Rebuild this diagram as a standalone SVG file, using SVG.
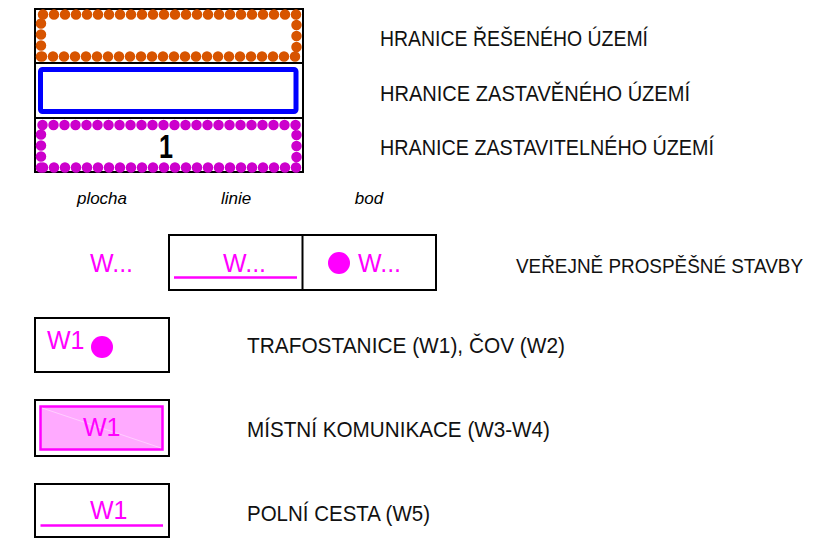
<svg xmlns="http://www.w3.org/2000/svg" width="837" height="538" viewBox="0 0 837 538">
<style>
.box{fill:#fff;stroke:#000;stroke-width:2}
.lbl{font-family:"Liberation Sans",Arial,sans-serif;font-size:22px;fill:#111}
.it{font-family:"Liberation Sans",Arial,sans-serif;font-size:17px;font-style:italic;fill:#000;text-anchor:middle}
.w{font-family:"Liberation Sans",Arial,sans-serif;font-size:25px;fill:#ff00ff}
.mag{stroke:#ff00ff;stroke-width:2.5;fill:none}
.dots{fill:none;stroke-width:10.5;stroke-linecap:round;stroke-dasharray:0 11}
</style>
<rect width="837" height="538" fill="#fff"/>
<g id="hranice-legend">
  <rect class="box" x="35" y="9" width="268" height="163"/>
  <line x1="35" y1="63" x2="303" y2="63" stroke="#000" stroke-width="2"/>
  <line x1="35" y1="118" x2="303" y2="118" stroke="#000" stroke-width="2"/>
  <path class="dots" d="M41,56.5 L41,14.5 L296.5,14.5 L296.5,56.5 Z" stroke="#d75400"/>
  <rect x="40.5" y="69.5" width="255.5" height="42" rx="2" fill="none" stroke="#0000ff" stroke-width="5"/>
  <path class="dots" d="M41,167.5 L41,125 L296.5,125 L296.5,167.5 Z" stroke="#cc00cc"/>
  <text x="166" y="158" font-family="Liberation Sans,Arial,sans-serif" font-size="33" font-weight="bold" text-anchor="middle" fill="#000" textLength="14" lengthAdjust="spacingAndGlyphs">1</text>
</g>
<g id="label-reseneho">
  <text class="lbl" x="380" y="46" textLength="268" lengthAdjust="spacingAndGlyphs">HRANICE ŘEŠENÉHO ÚZEMÍ</text>
</g>
<g id="label-zastaveneho">
  <text class="lbl" x="380" y="101" textLength="310" lengthAdjust="spacingAndGlyphs">HRANICE ZASTAVĚNÉHO ÚZEMÍ</text>
</g>
<g id="label-zastavitelneho">
  <text class="lbl" x="380" y="155" textLength="334" lengthAdjust="spacingAndGlyphs">HRANICE ZASTAVITELNÉHO ÚZEMÍ</text>
</g>
<g id="column-heads">
  <text class="it" x="102" y="204">plocha</text>
  <text class="it" x="236" y="204">linie</text>
  <text class="it" x="369" y="204">bod</text>
</g>
<g id="vps-legend">
  <text class="w" x="90" y="272">W...</text>
  <rect class="box" x="169" y="235" width="267" height="55"/>
  <line x1="302.5" y1="235" x2="302.5" y2="290" stroke="#000" stroke-width="2"/>
  <line x1="174" y1="277.5" x2="297" y2="277.5" class="mag"/>
  <text class="w" x="223" y="272">W...</text>
  <circle cx="339" cy="263" r="11" fill="#ff00ff"/>
  <text class="w" x="358" y="272">W...</text>
</g>
<g id="label-vps">
  <text class="lbl" x="516" y="273" font-size="20.5" style="font-size:20.5px" textLength="287" lengthAdjust="spacingAndGlyphs">VEŘEJNĚ PROSPĚŠNÉ STAVBY</text>
</g>
<g id="w1-bod">
  <rect class="box" x="35" y="318" width="134" height="54"/>
  <text class="w" x="47" y="349">W1</text>
  <circle cx="102" cy="347" r="11" fill="#ff00ff"/>
</g>
<g id="label-trafo">
  <text class="lbl" x="247" y="353" textLength="318" lengthAdjust="spacingAndGlyphs">TRAFOSTANICE (W1), ČOV (W2)</text>
</g>
<g id="w1-plocha">
  <rect class="box" x="35" y="400" width="134" height="56"/>
  <rect x="40.5" y="406.5" width="122" height="43" fill="#ffaaff" stroke="#ff00ff" stroke-width="2.5"/>
  <line x1="42" y1="408" x2="161" y2="448" stroke="#fff" stroke-width="0.6" opacity="0.7"/>
  <text class="w" x="83" y="436">W1</text>
</g>
<g id="label-mistni">
  <text class="lbl" x="247" y="437" textLength="303" lengthAdjust="spacingAndGlyphs">MÍSTNÍ KOMUNIKACE (W3-W4)</text>
</g>
<g id="w1-linie">
  <rect class="box" x="35" y="484" width="134" height="53"/>
  <line x1="40.5" y1="525.5" x2="163" y2="525.5" class="mag"/>
  <text class="w" x="90" y="519">W1</text>
</g>
<g id="label-polni">
  <text class="lbl" x="247" y="521" textLength="183" lengthAdjust="spacingAndGlyphs">POLNÍ CESTA (W5)</text>
</g>
<g id="connectors"></g>
</svg>
